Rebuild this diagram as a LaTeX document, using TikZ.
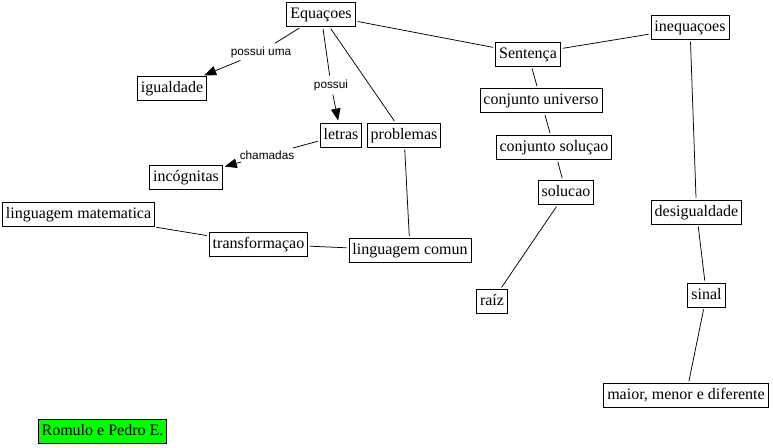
\documentclass[tikz,border=0pt]{standalone}
\usepackage{fontspec}
\setmainfont{Liberation Serif}
\newfontfamily\lblfont{Liberation Sans}
\usetikzlibrary{arrows.meta}
\begin{document}
\begin{tikzpicture}[x=1pt,y=-1pt,
  concept/.style={draw=black,line width=0.9pt,fill=white,inner xsep=3.5pt,inner ysep=0pt,
    text height=12pt,text depth=4pt,minimum height=24pt,font=\fontsize{16}{19}\selectfont},
  lbl/.style={inner sep=2pt,font=\lblfont\fontsize{11.8}{13}\selectfont},
  link/.style={line width=0.75pt,shorten <=2pt,shorten >=2pt},
  arr/.style={link,-{Triangle[length=12pt,width=9.5pt]}}]
\useasboundingbox (0,0) rectangle (773,447);
\node[concept] (eq) at (321,14.5) {Equaçoes};
\node[concept] (ig) at (172,88.5) {igualdade};
\node[concept] (le) at (341,135) {letras};
\node[concept] (pr) at (404,135) {problemas};
\node[concept] (inc) at (186,177) {incógnitas};
\node[concept] (lm) at (78.5,214.5) {linguagem matematica};
\node[concept] (tr) at (258.5,244) {transformaçao};
\node[concept] (lc) at (410,250.5) {linguagem comun};
\node[concept] (se) at (528,54) {Sentença};
\node[concept] (ine) at (690,27.5) {inequaçoes};
\node[concept] (cu) at (541,100.5) {conjunto universo};
\node[concept] (cs) at (554,147.5) {conjunto soluçao};
\node[concept] (so) at (566,192.5) {solucao};
\node[concept] (ra) at (492,301.5) {raíz};
\node[concept] (de) at (696.5,212) {desigualdade};
\node[concept] (si) at (706.5,295) {sinal};
\node[concept] (mm) at (686,395.5) {maior, menor e diferente};
\node[concept,fill={rgb,255:red,0;green,255;blue,0}] (rp) at (102.5,431.5) {Romulo e Pedro E.};
\node[lbl] (l1) at (261,52) {possui uma};
\node[lbl] (l2) at (331,85) {possui};
\node[lbl] (l3) at (267,155) {chamadas};
\draw[link] (eq) -- (l1);
\draw[arr] (l1) -- (ig);
\draw[link] (eq) -- (l2);
\draw[arr] (l2) -- (le);
\draw[link] (le) -- (l3);
\draw[arr] (l3) -- (inc);
\draw[link] (eq) -- (pr);
\draw[link] (eq) -- (se);
\draw[link] (se) -- (ine);
\draw[link] (se) -- (cu);
\draw[link] (cu) -- (cs);
\draw[link] (cs) -- (so);
\draw[link] (so) -- (ra);
\draw[link] (ine) -- (de);
\draw[link] (de) -- (si);
\draw[link] (si) -- (mm);
\draw[link] (pr) -- (lc);
\draw[link] (lc) -- (tr);
\draw[link] (tr) -- (lm);
\end{tikzpicture}
\end{document}
